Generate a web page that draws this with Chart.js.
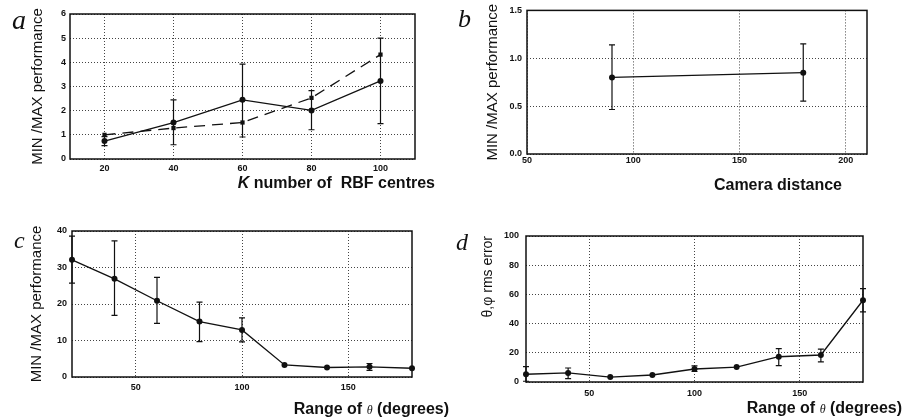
<!DOCTYPE html>
<html><head><meta charset="utf-8">
<script src="https://cdn.jsdelivr.net/npm/chart.js@4"></script>
<style>
html,body{margin:0;padding:0;background:#fff;width:907px;height:418px;overflow:hidden;}
#wrap{position:relative;width:907px;height:418px;}
canvas{position:absolute;}
.lbl{position:absolute;font-family:'Liberation Serif',serif;font-style:italic;line-height:1;color:#111;}
.xt{position:absolute;font-family:'Liberation Sans',Arial,sans-serif;font-weight:bold;font-size:16px;line-height:1;color:#111;white-space:nowrap;}
.xt i{font-family:'Liberation Serif',serif;font-weight:normal;font-size:12px;}
</style></head>
<body>
<div id="wrap">
  <canvas id="ca" width="450" height="205" style="left:0;top:0"></canvas>
  <canvas id="cb" width="457" height="205" style="left:450px;top:0"></canvas>
  <canvas id="cc" width="450" height="208" style="left:0;top:210px"></canvas>
  <canvas id="cd" width="457" height="208" style="left:450px;top:210px"></canvas>
  <div class="lbl" style="left:12px;top:6px;font-size:28px">a</div>
  <div class="lbl" style="left:458px;top:6px;font-size:26px">b</div>
  <div class="lbl" style="left:14px;top:228px;font-size:24px">c</div>
  <div class="lbl" style="left:456px;top:230px;font-size:24px">d</div>
  <div class="xt" style="right:472px;top:175px"><span style="font-style:italic">K</span> number of &nbsp;RBF centres</div>
  <div class="xt" style="right:65px;top:177px">Camera distance</div>
  <div class="xt" style="right:458px;top:401px">Range of <i>θ</i> (degrees)</div>
  <div class="xt" style="right:5px;top:400px">Range of <i>θ</i> (degrees)</div>
</div>
<script>
// ---- Panel a ----
const kCentres = [20, 40, 60, 80, 100];
const perfSolidA = [0.74, 1.51, 2.45, 2.01, 3.23];
const errLowA = [0.55, 0.59, 0.91, 1.21, 1.46];
const errHighA = [0.93, 2.45, 3.93, 2.83, 5.0];
const perfDashedA = [1.0, 1.28, 1.51, 2.53, 4.32];
const xTicksA = [20, 40, 60, 80, 100];
const yTicksA = [0, 1, 2, 3, 4, 5, 6];

// ---- Panel b ----
const cameraDistance = [90, 180];
const perfB = [0.80, 0.85];
const errLowB = [0.465, 0.553];
const errHighB = [1.14, 1.15];
const xTicksB = [50, 100, 150, 200];
const yTicksB = [0, 0.5, 1.0, 1.5];

// ---- Panel c ----
const thetaRange = [20, 40, 60, 80, 100, 120, 140, 160, 180];
const perfC = [32.1, 26.9, 20.9, 15.2, 12.9, 3.3, 2.6, 2.8, 2.4];
const errLowC = [25.7, 16.9, 14.7, 9.7, 9.6, null, null, 1.8, null];
const errHighC = [38.6, 37.3, 27.3, 20.5, 16.2, null, null, 3.7, null];
const xTicksC = [50, 100, 150];
const yTicksC = [0, 10, 20, 30, 40];

// ---- Panel d ----
const rmsErrD = [5.3, 6.2, 3.4, 4.8, 8.9, 10.2, 17.3, 18.5, 56];
const errLowD = [0.5, 2.3, null, null, 7.2, null, 11.2, 13.8, 48];
const errHighD = [10.5, 9.6, null, null, 11, null, 22.8, 22.5, 64];
const xTicksD = [50, 100, 150];
const yTicksD = [0, 20, 40, 60, 80, 100];

const INK = '#111';

const errorBars = {
  id: 'errorBars',
  afterDatasetsDraw(chart) {
    const {ctx, scales: {x, y}} = chart;
    chart.data.datasets.forEach(ds => {
      if (!ds.errLow) return;
      ctx.save();
      ctx.strokeStyle = INK; ctx.lineWidth = 1.2; ctx.setLineDash([]);
      ds.data.forEach((p, i) => {
        const lo = ds.errLow[i], hi = ds.errHigh[i];
        if (lo == null || hi == null) return;
        const px = x.getPixelForValue(p.x);
        const yl = y.getPixelForValue(lo), yh = y.getPixelForValue(hi);
        ctx.beginPath();
        ctx.moveTo(px, yl); ctx.lineTo(px, yh);
        ctx.moveTo(px - 3, yl); ctx.lineTo(px + 3, yl);
        ctx.moveTo(px - 3, yh); ctx.lineTo(px + 3, yh);
        ctx.stroke();
      });
      ctx.restore();
    });
  }
};

const frame = {
  id: 'frame',
  beforeDatasetsDraw(chart) {
    const {ctx, chartArea: a} = chart;
    ctx.save();
    ctx.strokeStyle = INK; ctx.lineWidth = 1.5; ctx.setLineDash([]);
    ctx.strokeRect(a.left, a.top, a.right - a.left, a.bottom - a.top);
    ctx.restore();
  }
};

function series(xs, ys, extra) {
  return Object.assign({
    data: xs.map((x, i) => ({x, y: ys[i]})),
    borderColor: INK, borderWidth: 1.3,
    pointRadius: 3, pointHoverRadius: 3,
    pointBackgroundColor: INK, pointBorderColor: INK, pointBorderWidth: 0,
    pointStyle: 'circle', tension: 0, clip: false, fill: false
  }, extra || {});
}

function panel(id, o) {
  const tickFont = {family: "'Liberation Sans', Arial, sans-serif", size: 9, weight: 'bold'};
  new Chart(document.getElementById(id), {
    type: 'line',
    data: {datasets: o.datasets},
    options: {
      responsive: false, animation: false, devicePixelRatio: 1,
      layout: {padding: o.pad},
      plugins: {legend: {display: false}, tooltip: {enabled: false}},
      scales: {
        x: {
          type: 'linear', min: o.xMin, max: o.xMax,
          afterBuildTicks: s => { s.ticks = o.xTicks.map(v => ({value: v})); },
          afterFit: s => { s.height = o.xH; },
          grid: {color: '#444', lineWidth: 1, drawTicks: false, borderDash: [1, 2]},
          border: {display: false, dash: [1, 2]},
          ticks: {color: INK, font: tickFont, padding: o.xLP, maxRotation: 0, autoSkip: false}
        },
        y: {
          type: 'linear', min: o.yMin, max: o.yMax,
          afterBuildTicks: s => { s.ticks = o.yTicks.map(v => ({value: v})); },
          afterFit: s => { s.width = o.yW; },
          grid: {color: '#444', lineWidth: 1, drawTicks: false, borderDash: [1, 2]},
          border: {display: false, dash: [1, 2]},
          ticks: {color: INK, font: tickFont, padding: o.yLP, autoSkip: false,
                  callback: v => o.yFmt ? v.toFixed(o.yFmt) : String(v)},
          title: {display: true, text: o.yTitle, color: INK, align: o.yAlign || 'center',
                  font: {family: "'Liberation Sans', Arial, sans-serif", size: o.yTS || 15},
                  padding: {top: o.yTP, bottom: 0}}
        }
      }
    },
    plugins: [frame, errorBars]
  });
}

panel('ca', {
  datasets: [
    series(kCentres, perfDashedA, {borderDash: [11, 7], pointStyle: 'rect', pointRadius: 3}),
    series(kCentres, perfSolidA, {errLow: errLowA, errHigh: errHighA})
  ],
  xMin: 10, xMax: 110, yMin: 0, yMax: 6, xTicks: xTicksA, yTicks: yTicksA,
  pad: {left: 0, right: 35, top: 14, bottom: 0}, yW: 70, xH: 46, xLP: 4, yLP: 4,
  yTitle: 'MIN /MAX performance', yTP: 29
});

panel('cb', {
  datasets: [series(cameraDistance, perfB, {errLow: errLowB, errHigh: errHighB})],
  xMin: 50, xMax: 210, yMin: 0, yMax: 1.5, xTicks: xTicksB, yTicks: yTicksB, yFmt: 1,
  pad: {left: 0, right: 40, top: 7, bottom: 0}, yW: 77, xH: 51, xLP: 1, yLP: 5,
  yTitle: 'MIN /MAX performance', yTP: 34
});

panel('cc', {
  datasets: [series(thetaRange, perfC, {errLow: errLowC, errHigh: errHighC})],
  xMin: 20, xMax: 180, yMin: 0, yMax: 40, xTicks: xTicksC, yTicks: yTicksC,
  pad: {left: 0, right: 38, top: 21, bottom: 0}, yW: 72, xH: 41, xLP: 5, yLP: 5,
  yTitle: 'MIN /MAX performance', yTP: 28
});

panel('cd', {
  datasets: [series(thetaRange, rmsErrD, {errLow: errLowD, errHigh: errHighD})],
  xMin: 20, xMax: 180, yMin: 0, yMax: 100, xTicks: xTicksD, yTicks: yTicksD,
  pad: {left: 0, right: 44, top: 26, bottom: 0}, yW: 76, xH: 36, xLP: 6, yLP: 7,
  yTitle: 'θ,φ rms error', yTS: 14, yAlign: 'end', yTP: 30
});
</script>
</body></html>
